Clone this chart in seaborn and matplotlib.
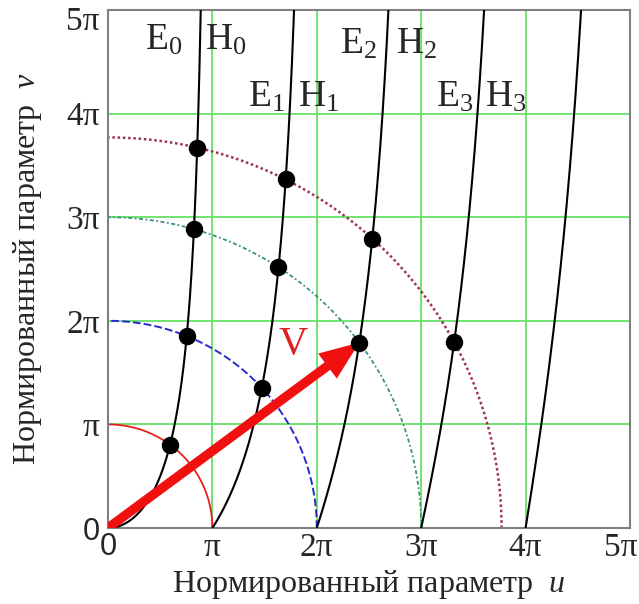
import numpy as np
import pandas as pd
import matplotlib
matplotlib.use("Agg")
import matplotlib.pyplot as plt
import matplotlib.transforms as mtrans
import seaborn as sns
from matplotlib.patches import FancyArrow

# ---- data (all in units of pi) ----
mode_orders = [0, 1, 2, 3, 4]                 # branch m starts at u = m*pi
circle_radii = [1.0, 2.0, 3.0, 3.77]          # V values
circle_colors = ["#e3211c", "#2a2ad0", "#3d8f80", "#a0305a"]
dot_u = [0.594, 0.754, 1.473, 0.823, 1.633, 2.407, 0.855, 1.702, 2.531, 3.316]
dot_v = [0.804, 1.852, 1.353, 2.885, 2.517, 1.790, 3.672, 3.364, 2.794, 1.794]
arrow_tip = (2.407, 1.790)
tick_vals = [0, 1, 2, 3, 4, 5]
tick_labels = ["0", "π", "2π", "3π", "4π", "5π"]
mode_labels = [("E", "H", 0), ("E", "H", 1), ("E", "H", 2), ("E", "H", 3)]
label_pos = [(0.709, 0.929, 4.62), (1.695, 1.82, 4.07),
             (2.577, 2.759, 4.575), (3.496, 3.611, 4.07)]

sns.set_theme(style="white")
plt.rcParams["font.family"] = ["Liberation Serif", "DejaVu Serif"]
plt.rcParams["mathtext.fontset"] = "custom"
plt.rcParams["mathtext.rm"] = "Liberation Serif"
plt.rcParams["mathtext.it"] = "Liberation Serif:italic"

fig = plt.figure(figsize=(6.39, 6.04), dpi=100)
ax = fig.add_axes([108/639, 76/604, 522/639, 518/604])

# grid
for t in tick_vals[1:-1]:
    ax.axvline(t, color="#66e066", lw=1.3, zorder=0)
    ax.axhline(t, color="#66e066", lw=1.3, zorder=0)

# dispersion branches v = u*tan(u/2 - m*pi/2)
for m in mode_orders:
    p = np.linspace(m, m + 0.97, 600)
    q = p * np.tan(np.pi * (p - m) / 2)
    df = pd.DataFrame({"u": p, "v": q})
    sns.lineplot(data=df, x="u", y="v", sort=False, estimator=None,
                 color="black", lw=1.5, ax=ax, zorder=3)

# circles
dash_styles = [None, (4, 1.6), (2.2, 1.4, 1, 1.4), (1, 1.1)]
lws = [1.3, 1.4, 1.3, 1.8]
for R, c, ds, lw in zip(circle_radii, circle_colors, dash_styles, lws):
    th = np.linspace(0, np.pi / 2, 400)
    df = pd.DataFrame({"u": R * np.cos(th), "v": R * np.sin(th)})
    sns.lineplot(data=df, x="u", y="v", sort=False, estimator=None,
                 color=c, lw=lw, ax=ax, zorder=2)
    line = ax.lines[-1]
    if ds is not None:
        line.set_dashes(ds)

# arrow V
arr = FancyArrow(0, 0, arrow_tip[0], arrow_tip[1], width=0.09,
                 head_width=0.30, head_length=0.38, length_includes_head=True,
                 color="#f01010", lw=0, zorder=4)
ax.add_patch(arr)
ax.text(1.77, 1.77, "V", color="#e02020", fontsize=29, ha="center",
        va="center", zorder=5)

# intersection dots
sns.scatterplot(x=dot_u, y=dot_v, color="black", s=135, edgecolor="black",
                ax=ax, zorder=6, legend=False)

# mode labels
for (e, h, n), (xe, xh, y) in zip(mode_labels, label_pos):
    ax.text(xe, y, rf"$\mathrm{{{e}}}_{{{n}}}$", fontsize=27, ha="right",
            va="baseline", zorder=7)
    ax.text(xh, y, rf"$\mathrm{{{h}}}_{{{n}}}$", fontsize=27, ha="left",
            va="baseline", zorder=7)

ax.set_xlim(0, 5)
ax.set_ylim(0, 5)
ax.set_xticks(tick_vals)
ax.set_yticks(tick_vals)
ax.set_xticklabels(tick_labels, fontsize=24)
ax.set_yticklabels(tick_labels, fontsize=24)
for lab in [ax.get_xticklabels()[0], ax.get_yticklabels()[0]]:
    lab.set_family("Liberation Sans")
    lab.set_fontsize(22)
ax.tick_params(length=0)
ax.tick_params(axis="x", pad=3)
ax.tick_params(axis="y", pad=6)
# last x tick label: keep inside the figure
lx = ax.get_xticklabels()[-1]
lx.set_horizontalalignment("right")
lx.set_transform(lx.get_transform() + mtrans.ScaledTranslation(7/100, 0, fig.dpi_scale_trans))
# top y tick label sits a bit lower
ly = ax.get_yticklabels()[-1]
ly.set_verticalalignment("top")
ly.set_transform(ly.get_transform() + mtrans.ScaledTranslation(0, 3/100, fig.dpi_scale_trans))

for s in ax.spines.values():
    s.set_color("#808080")
    s.set_linewidth(1.5)
    s.set_visible(True)

ax.set_xlabel(r"Нормированный параметр  $\mathit{u}$", fontsize=23, labelpad=4)
ax.set_ylabel(r"Нормированный параметр  $\mathit{v}$", fontsize=23, labelpad=16)

fig.savefig("out.png", dpi=100)
